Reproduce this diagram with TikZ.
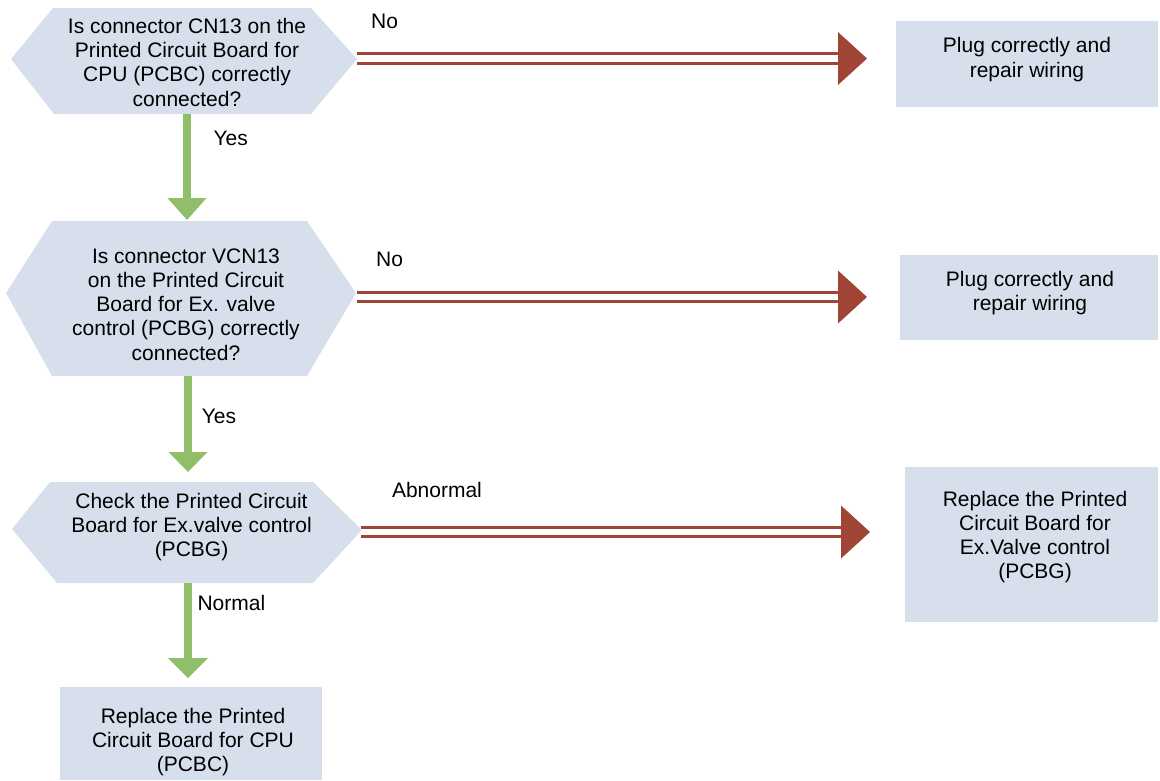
\documentclass[tikz,border=0pt]{standalone}
\usepackage{fontspec}
\setmainfont{Liberation Sans}
\usetikzlibrary{calc}
\definecolor{boxfill}{RGB}{216,223,236}
\definecolor{okgreen}{RGB}{145,190,104}
\definecolor{ngred}{RGB}{160,69,54}
\begin{document}
\begin{tikzpicture}[x=1pt,y=-1pt,
  txt/.style={font=\fontsize{21}{24.2}\selectfont, align=center, inner sep=0pt, text=black},
  lbl/.style={font=\fontsize{21}{24.2}\selectfont, inner sep=0pt, anchor=base west, text=black},
  boxnode/.style={fill=boxfill, draw=none, inner sep=0pt},
  hexfill/.style={fill=boxfill},
  greenshaft/.style={draw=okgreen, line width=8pt},
  greenhead/.style={fill=okgreen},
  redshaft/.style={draw=ngred, line width=3pt, double=white, double distance=6.5pt},
  redhead/.style={fill=ngred}]
\useasboundingbox (0,0) rectangle (1160,780);

% decision hexagons
\fill[hexfill] (11,59) -- (53,8) -- (311,8) -- (357,59) -- (311,114) -- (54,114) -- cycle;
\fill[hexfill] (6,293) -- (52,221) -- (307,221) -- (356,293) -- (307,376) -- (52,376) -- cycle;
\fill[hexfill] (12,529) -- (50,482) -- (313,482) -- (362,530) -- (313,583) -- (57,583) -- cycle;

\node[txt] (q1) at (187,62.2) {Is connector CN13 on the\\Printed Circuit Board for\\CPU (PCBC) correctly\\connected?};
\node[txt] (q2) at (186,304.4) {Is connector VCN13\\on the Printed Circuit\\Board for Ex. valve\\control (PCBG) correctly\\connected?};
\node[txt] (q3) at (191.5,526.8) {Check the Printed Circuit\\Board for Ex.valve control\\(PCBG)};

% result boxes
\node[boxnode, minimum width=262pt, minimum height=86pt] (r1) at (1027,64) {};
\node[txt] (r1t) at (1027,59.6) {Plug correctly and\\repair wiring};
\node[boxnode, minimum width=258pt, minimum height=85pt] (r2) at (1029,297.5) {};
\node[txt] (r2t) at (1030,293.2) {Plug correctly and\\repair wiring};
\node[boxnode, minimum width=253pt, minimum height=155pt] (r3) at (1031.5,544.5) {};
\node[txt] (r3t) at (1035,537) {Replace the Printed\\Circuit Board for\\Ex.Valve control\\(PCBG)};
\node[boxnode, minimum width=262pt, minimum height=93pt] (f) at (191,733.5) {};
\node[txt] (ft) at (193,742) {Replace the Printed\\Circuit Board for CPU\\(PCBC)};

% connector end points
\coordinate (q1s) at (187,114); \coordinate (q2n) at (187,220);
\coordinate (q2s) at (188,376); \coordinate (q3n) at (188,472);
\coordinate (q3s) at (188,583); \coordinate (fn) at (188,678);
\coordinate (q1e) at (357,58.5); \coordinate (r1w) at (867,58.5);
\coordinate (q2e) at (357,297); \coordinate (r2w) at (867,297);
\coordinate (q3e) at (361,532); \coordinate (r3w) at (870,532);

% Yes / Normal arrows
\draw[greenshaft] (q1s) -- ($(q2n)+(0,-21)$);
\fill[greenhead] (q2n) -- ++(-19.5,-22) -- ++(39,0) -- cycle;
\draw[greenshaft] (q2s) -- ($(q3n)+(0,-19)$);
\fill[greenhead] (q3n) -- ++(-19.5,-20) -- ++(39,0) -- cycle;
\draw[greenshaft] (q3s) -- ($(fn)+(0,-19)$);
\fill[greenhead] (fn) -- ++(-20,-20) -- ++(40,0) -- cycle;

% No / Abnormal arrows
\draw[redshaft] (q1e) -- ($(r1w)+(-28,0)$);
\fill[redhead] (r1w) -- ++(-29,-26.5) -- ++(0,53) -- cycle;
\draw[redshaft] (q2e) -- ($(r2w)+(-28,0)$);
\fill[redhead] (r2w) -- ++(-29,-26.5) -- ++(0,53) -- cycle;
\draw[redshaft] (q3e) -- ($(r3w)+(-28,0)$);
\fill[redhead] (r3w) -- ++(-29,-26.5) -- ++(0,53) -- cycle;

% labels
\node[lbl] (l1) at (371,28.5) {No};
\node[lbl] (l2) at (376,266.7) {No};
\node[lbl] (l3) at (213.3,145) {Yes};
\node[lbl] (l4) at (201.7,423.3) {Yes};
\node[lbl] (l5) at (197.3,610) {Normal};
\node[lbl] (l6) at (391.8,497.5) {Abnormal};
\end{tikzpicture}
\end{document}
